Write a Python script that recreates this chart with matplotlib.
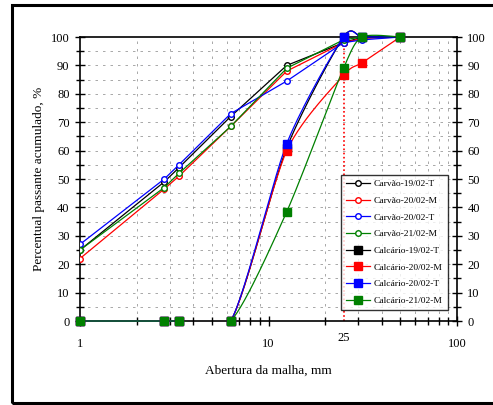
import numpy as np
import matplotlib
matplotlib.use("Agg")
import matplotlib.pyplot as plt
from matplotlib.ticker import FixedLocator, NullFormatter, MultipleLocator
from matplotlib.patches import Rectangle

plt.rcParams['font.family'] = ['Liberation Serif', 'DejaVu Serif']

sieves = [1, 2.8, 3.35, 6.3, 12.5, 25, 31.5, 50]

carvao_19T = [25, 49, 54, 72, 90, 98, 100, 100]
carvao_20M = [22, 46.5, 51, 68.5, 88, 98, 99.5, 100]
carvao_20T = [27, 50, 55, 73, 84.5, 98, 99, 100]
carvao_21M = [25, 47, 52, 68.5, 89, 99, 100, 100]

calc_19T = [0, 0, 0, 0, 61, 100, 100, 100]
calc_20M = [0, 0, 0, 0, 60, 86.5, 91, 100]
calc_20T = [0, 0, 0, 0, 62.5, 100, 100, 100]
calc_21M = [0, 0, 0, 0, 38.5, 89, 100, 100]

carvao_labels = ['Carvão-19/02-T', 'Carvão-20/02-M', 'Carvão-20/02-T', 'Carvão-21/02-M']
calc_labels = ['Calcário-19/02-T', 'Calcário-20/02-M', 'Calcário-20/02-T', 'Calcário-21/02-M']
colors = ['black', 'red', 'blue', '#008000']

x_major = [1, 10, 100]
x_extra_label = 25


def smooth(xs, ys, n=30, k=8.0):
    """Excel-like smoothed line (Bezier through the points) in log-x space."""
    lx = np.log10(np.asarray(xs, float))
    y = np.asarray(ys, float)
    P = np.column_stack([lx, y])
    out = []
    m = len(P)
    for i in range(m - 1):
        p0 = P[i - 1] if i > 0 else P[i]
        p1 = P[i]
        p2 = P[i + 1]
        p3 = P[i + 2] if i + 2 < m else P[i + 1]
        c1 = p1 + (p2 - p0) / k
        c2 = p2 - (p3 - p1) / k
        t = np.linspace(0, 1, n)[:, None]
        seg = ((1 - t) ** 3) * p1 + 3 * ((1 - t) ** 2) * t * c1 + 3 * (1 - t) * t ** 2 * c2 + t ** 3 * p2
        out.append(seg if i == 0 else seg[1:])
    c = np.vstack(out)
    return 10 ** c[:, 0], c[:, 1]


fig = plt.figure(figsize=(4.93, 4.05), dpi=100)
ax = fig.add_axes([80 / 493, 84 / 405, 377 / 493, 284 / 405])

# outer frame
fig.patches.append(Rectangle((12 / 493, 2 / 405), 1.2, 398 / 405, transform=fig.transFigure,
                             fill=False, edgecolor='black', linewidth=2.2))

ax.set_xscale('log')
ax.set_xlim(1, 100)
ax.set_ylim(0, 100)

# grid
minor_x = [v * d for d in (1, 10) for v in range(2, 10)]
for xv in minor_x:
    ax.axvline(xv, color='#9a9a9a', lw=0.6, ls=(0, (3, 6)), zorder=0)
for yv in np.arange(5, 100, 5):
    ax.axhline(yv, color='#9a9a9a', lw=0.6, ls=(0, (3, 6)), zorder=0)

# vertical reference at 25 mm
ax.plot([25, 25], [0, 100], color='red', ls=(0, (1, 1.5)), lw=1.2, zorder=1)

handles = []
for ys, lab, col in zip([carvao_19T, carvao_20M, carvao_20T, carvao_21M], carvao_labels, colors):
    h, = ax.plot(sieves, ys, color=col, lw=0.9, marker='o', ms=4.0, mfc='white', mec=col,
                 mew=1.0, label=lab, zorder=3)
    handles.append(h)

clip_rect = Rectangle((0, -0.004), 1, 1.1, transform=ax.transAxes, visible=False)
ax.add_patch(clip_rect)
for ys, lab, col in zip([calc_19T, calc_20M, calc_20T, calc_21M], calc_labels, colors):
    sx, sy = smooth(sieves, ys)
    ln, = ax.plot(sx, sy, color=col, lw=0.9, zorder=4)
    ln.set_clip_path(clip_rect)
    ax.plot(sieves, ys, ls='none', marker='s', ms=5.5, color=col, zorder=5, clip_on=False)
    h, = ax.plot([], [], color=col, lw=0.9, marker='s', ms=5.5, label=lab)
    handles.append(h)

# ticks
ax.xaxis.set_major_locator(FixedLocator(x_major))
ax.set_xticklabels([str(v) for v in x_major])
ax.xaxis.set_minor_locator(FixedLocator(minor_x))
ax.xaxis.set_minor_formatter(NullFormatter())
ax.yaxis.set_major_locator(MultipleLocator(10))
ax.yaxis.set_minor_locator(MultipleLocator(5))
ax.tick_params(axis='both', which='major', direction='inout', length=7, width=1.0,
               labelsize=9, pad=4)
ax.tick_params(axis='both', which='minor', direction='inout', length=6, width=1.0)
ax.tick_params(axis='y', which='both', right=True, labelright=True)
ax.tick_params(axis='x', which='major', pad=9)
ax.text(x_extra_label, -3.8, str(x_extra_label), ha='center', va='top', fontsize=9,
        transform=ax.transData)

for s in ax.spines.values():
    s.set_linewidth(1.2)

ax.set_xlabel('Abertura da malha, mm', fontsize=9.5, labelpad=10)
ax.set_ylabel('Percentual passante acumulado, %', fontsize=9.5, labelpad=4)

leg = ax.legend(handles=handles, loc='lower right', bbox_to_anchor=(0.975, 0.04),
                fontsize=6.8, frameon=True, fancybox=False, edgecolor='black',
                handlelength=2.6, borderpad=0.5, labelspacing=0.85, handletextpad=0.4,
                borderaxespad=0.0)
leg.get_frame().set_linewidth(1.0)
leg.set_zorder(10)

fig.savefig('out.png', dpi=100)
